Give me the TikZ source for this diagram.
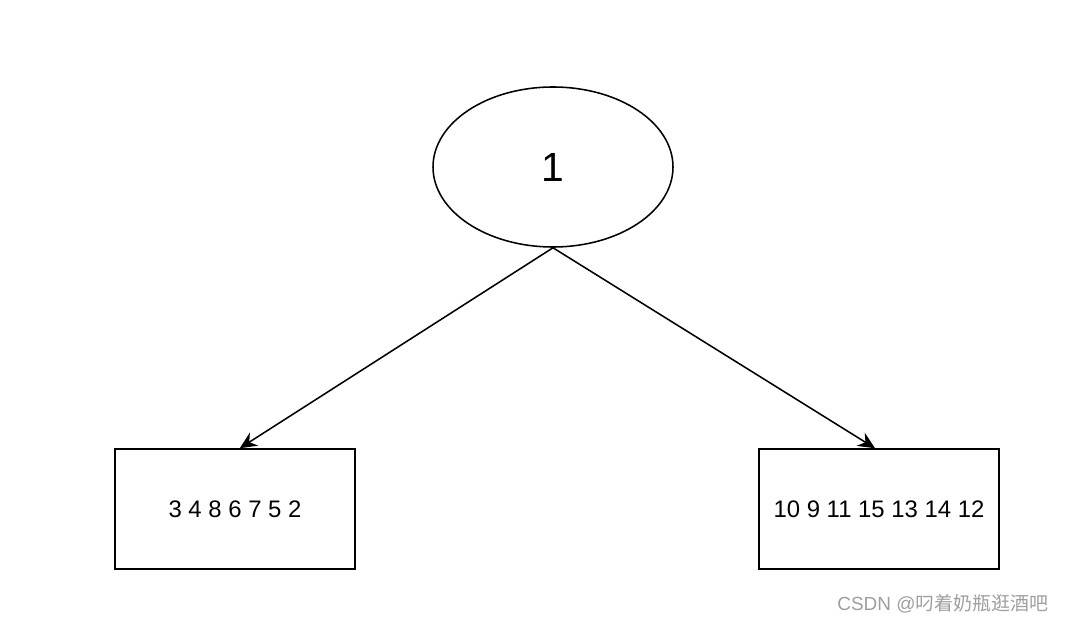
\documentclass[tikz,border=0pt]{standalone}
\usepackage{fontspec}
\setmainfont{Liberation Sans}
\newfontfamily\cjk{Noto Sans CJK SC}
\usetikzlibrary{shapes.geometric,arrows.meta}
\begin{document}
	\begin{tikzpicture}[line width=1.1pt]
		\useasboundingbox (0,0) rectangle (26.65,-15.6);
		\node[rectangle,draw=black,minimum width=6cm,minimum height=3cm,font=\fontsize{17}{20}\selectfont] (left) at (5.875,-12.725) {3 4 8 6 7 5 2};
		\node[rectangle,draw=black,minimum width=6cm,minimum height=3cm,font=\fontsize{17}{20}\selectfont] (right) at (21.975,-12.725) {10 9 11 15 13 14 12};
		\node[ellipse,draw=black,inner sep=0pt,minimum width=6cm,minimum height=4cm,font=\fontsize{29}{34}\selectfont] (root) at (13.825,-4.175) {1};
		\path (root.south)
			edge[-{Stealth[length=12pt,width=11pt,inset=4pt]}] ([xshift=0.12cm]left.north)
			edge[-{Stealth[length=12pt,width=11pt,inset=4pt]}] ([xshift=-0.1cm]right.north);
		\node[anchor=east,text=black!38,font=\fontsize{13.5}{16}\selectfont] (mark) at (26.35,-15.1) {CSDN @{\cjk 叼着奶瓶逛酒吧}};
	\end{tikzpicture}
\end{document}
